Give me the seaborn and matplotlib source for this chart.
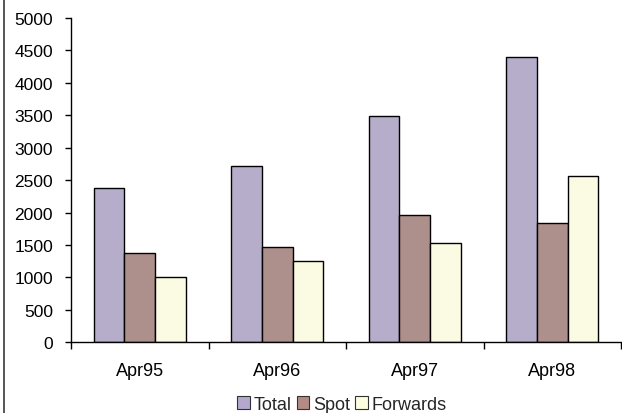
import matplotlib
matplotlib.use("Agg")
import matplotlib.pyplot as plt
from matplotlib.lines import Line2D
from matplotlib.patches import Patch
import seaborn as sns
import pandas as pd

months = ["Apr95", "Apr96", "Apr97", "Apr98"]
total = [2380, 2715, 3485, 4400]
spot = [1378, 1465, 1960, 1835]
forwards = [1002, 1250, 1528, 2562]
series_names = ["Total", "Spot", "Forwards"]
colors = ["#B4A8CF", "#B38A85", "#FFFDDF"]
y_ticks = list(range(0, 5001, 500))

df = pd.DataFrame({
    "month": months * 3,
    "value": total + spot + forwards,
    "series": [s for s in series_names for _ in months],
})

sns.set_theme(style="white")
plt.rcParams["font.family"] = ["Liberation Sans", "DejaVu Sans"]

fig = plt.figure(figsize=(6.22, 4.14), dpi=100)
ax = fig.add_axes([71/622, 1-343.3/414, 550/622, (343.3-19)/414])

sns.barplot(data=df, x="month", y="value", hue="series", order=months,
            hue_order=series_names, palette=colors, width=0.67, gap=0,
            edgecolor="black", linewidth=1.0, ax=ax, legend=False)

ax.set_xlim(-0.5, 3.5)
ax.set_ylim(0, 5000)
ax.set_yticks(y_ticks)
ax.set_yticklabels([str(v) for v in y_ticks], fontsize=12.5, color="black")
ax.set_xticks([-0.5, 0.5, 1.5, 2.5, 3.5])
ax.set_xticklabels([])
ax.set_xticks(range(len(months)), minor=True)
ax.set_xticklabels(months, minor=True, fontsize=13, color="black")
ax.tick_params(axis="x", which="major", length=5, width=1, color="black", direction="out", bottom=True)
ax.tick_params(axis="x", which="minor", length=0, pad=14, bottom=True)
ax.tick_params(axis="y", length=4, width=1, color="black", direction="out", left=True, pad=9)
ax.set_xlabel("")
ax.set_ylabel("")
for s in ["top", "right"]:
    ax.spines[s].set_visible(False)
for s in ["left", "bottom"]:
    ax.spines[s].set_color("black")
    ax.spines[s].set_linewidth(1.0)
ax.grid(False)

handles = [Patch(facecolor=c, edgecolor="#333333", linewidth=0.8) for c in colors]
fig.legend(handles, series_names, loc="center", bbox_to_anchor=(342/622, 1-405.5/414),
           ncol=3, frameon=False, fontsize=13, handlelength=0.7, handleheight=0.7,
           handletextpad=0.2, columnspacing=0.3, borderpad=0)

fig.add_artist(Line2D([4/622, 4/622], [0, 1], color="#555555", linewidth=1.4))

fig.savefig("out.png", dpi=100)
